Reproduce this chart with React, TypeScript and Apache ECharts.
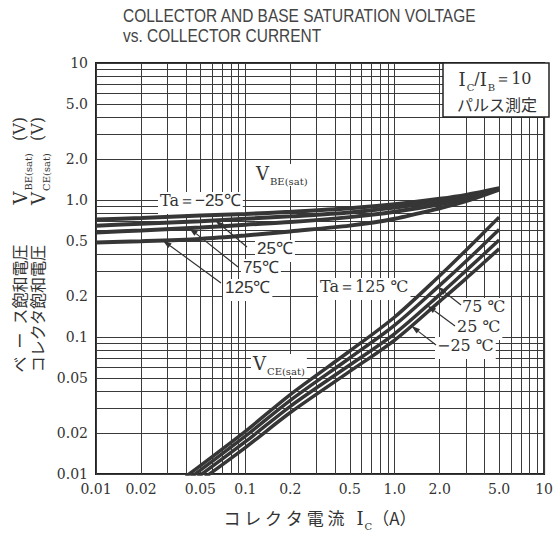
import React, { useEffect, useRef } from 'react';
import * as echarts from 'echarts';

// ---- axis ticks / labels ----
const X_TICK_VALUES = [0.01, 0.02, 0.05, 0.1, 0.2, 0.5, 1, 2, 5, 10];
const X_TICK_LABELS = ['0.01', '0.02', '0.05', '0.1', '0.2', '0.5', '1.0', '2.0', '5.0', '10'];
const Y_TICK_VALUES = [0.01, 0.02, 0.05, 0.1, 0.2, 0.5, 1, 2, 5, 10];
const Y_TICK_LABELS = ['0.01', '0.02', '0.05', '0.1', '0.2', '0.5', '1.0', '2.0', '5.0', '10'];
const GRID_MANTISSAS = [1, 2, 3, 4, 5, 6, 7, 8, 9];
const GRID_DECADES = [0.01, 0.1, 1];
const AXIS_MIN = 0.01;
const AXIS_MAX = 10;

// ---- VBE(sat) curves ----
const VBE_IC = [0.01, 0.02, 0.05, 0.1, 0.2, 0.5, 1, 2, 3, 5];
const VBE_M25 = [0.72, 0.74, 0.77, 0.79, 0.82, 0.87, 0.93, 1.02, 1.09, 1.22];
const VBE_25 = [0.65, 0.67, 0.70, 0.73, 0.76, 0.81, 0.88, 0.98, 1.06, 1.21];
const VBE_75 = [0.58, 0.60, 0.63, 0.66, 0.69, 0.75, 0.82, 0.93, 1.03, 1.20];
const VBE_125 = [0.49, 0.50, 0.52, 0.55, 0.59, 0.65, 0.73, 0.87, 0.98, 1.19];

// ---- VCE(sat) curves ----
const VCE_IC = [0.04, 0.1, 0.2, 0.5, 1, 2, 3, 5];
const VCE_125 = [0.0096, 0.0205, 0.038, 0.079, 0.14, 0.28, 0.43, 0.75];
const VCE_75 = [0.0089, 0.0189, 0.0345, 0.0703, 0.122, 0.238, 0.357, 0.61];
const VCE_25 = [0.0082, 0.0172, 0.0312, 0.0624, 0.106, 0.204, 0.305, 0.51];
const VCE_M25 = [0.0075, 0.0156, 0.0281, 0.0561, 0.095, 0.182, 0.267, 0.44];

const SERIF = 'DejaVu Serif';
const SANS = 'Liberation Sans';
const CJK = 'Noto Sans CJK JP';
const INK = '#333';

const lg = Math.log10;

function gridValues(): number[] {
  const out: number[] = [];
  GRID_DECADES.forEach((d) => GRID_MANTISSAS.forEach((m) => out.push(d * m)));
  out.push(AXIS_MAX);
  return out;
}

function labelFor(values: number[], labels: string[]) {
  return (v: number) => {
    const i = values.findIndex((t) => Math.abs(lg(t) - v) < 1e-6);
    return i >= 0 ? labels[i] : '';
  };
}

function toData(xs: number[], ys: number[]) {
  return xs.map((x, i) => [lg(x), lg(ys[i])]);
}

function interpLog(xs: number[], ys: number[], x: number): number {
  const lx = lg(x);
  for (let i = 0; i < xs.length - 1; i++) {
    const a = lg(xs[i]);
    const b = lg(xs[i + 1]);
    if (lx >= a && lx <= b) {
      const t = (lx - a) / (b - a);
      return Math.pow(10, lg(ys[i]) + t * (lg(ys[i + 1]) - lg(ys[i])));
    }
  }
  return ys[ys.length - 1];
}

export default function App() {
  const ref = useRef<HTMLDivElement>(null);

  useEffect(() => {
    if (!ref.current) return;
    const chart = echarts.init(ref.current, null, { renderer: 'svg' });
    const gv = gridValues().map(lg);

    const lineSeries = (name: string, xs: number[], ys: number[], w: number) => ({
      name,
      type: 'line',
      data: toData(xs, ys),
      symbol: 'none',
      smooth: 0.3,
      clip: true,
      z: 2,
      lineStyle: { color: '#363636', width: w },
    });

    chart.setOption({
      animation: false,
      grid: {
        left: 96,
        right: 7,
        top: 63,
        bottom: 62,
        show: true,
        borderColor: '#222',
        borderWidth: 2,
        backgroundColor: '#fff',
      },
      xAxis: {
        type: 'value',
        min: lg(AXIS_MIN),
        max: lg(AXIS_MAX),
        axisLine: { show: false },
        axisTick: { show: false, customValues: gv },
        axisLabel: {
          customValues: X_TICK_VALUES.map(lg),
          formatter: labelFor(X_TICK_VALUES, X_TICK_LABELS),
          margin: 8,
          fontFamily: SERIF,
          fontSize: 14,
          color: INK,
        },
        splitLine: { show: true, lineStyle: { color: '#3a3a3a', width: 1 } },
      },
      yAxis: {
        type: 'value',
        min: lg(AXIS_MIN),
        max: lg(AXIS_MAX),
        axisLine: { show: false },
        axisTick: { show: false, customValues: gv },
        axisLabel: {
          customValues: Y_TICK_VALUES.map(lg),
          formatter: labelFor(Y_TICK_VALUES, Y_TICK_LABELS),
          margin: 8,
          fontFamily: SERIF,
          fontSize: 14,
          color: INK,
        },
        splitLine: { show: true, lineStyle: { color: '#3a3a3a', width: 1 } },
      },
      series: [
        lineSeries('VBE -25', VBE_IC, VBE_M25, 4),
        lineSeries('VBE 25', VBE_IC, VBE_25, 4),
        lineSeries('VBE 75', VBE_IC, VBE_75, 4),
        lineSeries('VBE 125', VBE_IC, VBE_125, 4),
        lineSeries('VCE 125', VCE_IC, VCE_125, 3.5),
        lineSeries('VCE 75', VCE_IC, VCE_75, 3.5),
        lineSeries('VCE 25', VCE_IC, VCE_25, 3.5),
        lineSeries('VCE -25', VCE_IC, VCE_M25, 3.5),
      ],
    });

    const toPx = (x: number, y: number) =>
      chart.convertToPixel({ gridIndex: 0 }, [lg(x), lg(y)]) as number[];

    const subRich = {
      v: { fontFamily: SERIF, fontSize: 18, lineHeight: 22, verticalAlign: 'top', fill: INK, color: INK },
      s: { fontFamily: SERIF, fontSize: 10, lineHeight: 10, verticalAlign: 'bottom', fill: INK, color: INK, padding: [0, 0, 0, 1] },
      t: { fontFamily: SERIF, fontSize: 16, lineHeight: 22, verticalAlign: 'top', fill: INK, color: INK },
      n: { fontFamily: SANS, fontSize: 17, lineHeight: 22, verticalAlign: 'top', fill: INK, color: INK },
      c: { fontFamily: CJK, fontSize: 16, lineHeight: 22, verticalAlign: 'top', fill: INK, color: INK },
      x: { fontFamily: CJK, fontSize: 17, lineHeight: 22, verticalAlign: 'top', fill: INK, color: INK },
      g: { fontSize: 10, width: 40, lineHeight: 22, verticalAlign: 'top' },
      h: { fontSize: 10, width: 12, lineHeight: 22, verticalAlign: 'top' },
    };

    const label = (x: number, cy: number, text: string) => ({
      type: 'text',
      x,
      y: cy,
      z: 1,
      style: {
        text,
        rich: subRich,
        align: 'left',
        verticalAlign: 'middle',
        textAlign: 'left',
        textVerticalAlign: 'middle',
        backgroundColor: '#fff',
        padding: [0, 2, 0, 2],
        fill: INK,
      },
    });

    const arrow = (from: number[], tip: number[]) => {
      const dx = tip[0] - from[0];
      const dy = tip[1] - from[1];
      const len = Math.sqrt(dx * dx + dy * dy) || 1;
      const ux = dx / len;
      const uy = dy / len;
      const bx = tip[0] - ux * 9;
      const by = tip[1] - uy * 9;
      const nx = -uy * 2.8;
      const ny = ux * 2.8;
      return [
        {
          type: 'line',
          z: 3,
          shape: { x1: from[0], y1: from[1], x2: bx, y2: by },
          style: { stroke: '#333', lineWidth: 1.2 },
        },
        {
          type: 'polygon',
          z: 3,
          shape: { points: [[tip[0], tip[1]], [bx + nx, by + ny], [bx - nx, by - ny]] },
          style: { fill: '#333' },
        },
      ];
    };

    const tipOn = (xs: number[], ys: number[], x: number) => toPx(x, interpLog(xs, ys, x));

    const elements: any[] = [
      {
        type: 'text',
        x: 123,
        y: 6,
        scaleX: 0.86,
        style: {
          text: 'COLLECTOR AND BASE SATURATION VOLTAGE\nvs. COLLECTOR CURRENT',
          fontFamily: SANS,
          fontSize: 18,
          lineHeight: 20,
          fill: '#444',
          align: 'left',
          verticalAlign: 'top',
        },
      },
      // y axis title (two vertical columns)
      {
        type: 'text',
        x: 22,
        y: 117,
        rotation: Math.PI / 2,
        style: {
          text: '{c|ベ\u2002ー\u2002ス飽和電圧}{g| }{v|V}{s|BE(sat)}{h| }{t|(V)}',
          rich: subRich,
          align: 'right',
          verticalAlign: 'middle',
          textAlign: 'right',
          textVerticalAlign: 'middle',
        },
      },
      {
        type: 'text',
        x: 40,
        y: 117,
        rotation: Math.PI / 2,
        style: {
          text: '{c|コレクタ飽和電圧}{g| }{v|V}{s|CE(sat)}{h| }{t|(V)}',
          rich: subRich,
          align: 'right',
          verticalAlign: 'middle',
          textAlign: 'right',
          textVerticalAlign: 'middle',
        },
      },
      // x axis title
      {
        type: 'text',
        x: 320,
        y: 520,
        style: {
          text: '{x|コ レ ク タ 電 流}{h| }{v|I}{s|C}{x|（A）}',
          rich: subRich,
          align: 'center',
          verticalAlign: 'middle',
          textAlign: 'center',
          textVerticalAlign: 'middle',
        },
      },
      // condition box
      {
        type: 'rect',
        z: 1,
        shape: { x: 443, y: 63, width: 106, height: 54 },
        style: { fill: '#fff', stroke: '#222', lineWidth: 1.5 },
      },
      {
        type: 'text',
        x: 495,
        y: 81,
        z: 1,
        style: {
          text: '{v|I}{s|C}{t|/}{v|I}{s|B}{t|＝10}',
          rich: subRich,
          align: 'center',
          verticalAlign: 'middle',
          textAlign: 'center',
          textVerticalAlign: 'middle',
        },
      },
      {
        type: 'text',
        x: 497,
        y: 104,
        z: 1,
        style: {
          text: 'パルス測定',
          fontFamily: CJK,
          fontSize: 16,
          fill: INK,
          align: 'center',
          verticalAlign: 'middle',
          textAlign: 'center',
          textVerticalAlign: 'middle',
        },
      },
      // in-plot labels
      label(254, 175, '{v|V}{s|BE(sat)}'),
      label(158, 203, '{t|Ta}{t|＝}{n|−25℃}'),
      label(255, 251, '{n|25℃}'),
      label(241, 270, '{n|75℃}'),
      label(223, 290, '{n|125℃}'),
      label(318, 289, '{t|Ta＝125 ℃}'),
      label(460, 309, '{t|75 ℃}'),
      label(455, 329, '{t|25 ℃}'),
      label(435, 348, '{t|−25 ℃}'),
      label(251, 365, '{v|V}{s|CE(sat)}'),
    ];

    elements.push(
      ...arrow([247, 247], tipOn(VBE_IC, VBE_25, 0.063)),
      ...arrow([238, 267], tipOn(VBE_IC, VBE_75, 0.042)),
      ...arrow([221, 283], tipOn(VBE_IC, VBE_125, 0.028)),
      ...arrow([461, 305], tipOn(VCE_IC, VCE_75, 1.95)),
      ...arrow([455, 326], tipOn(VCE_IC, VCE_25, 1.65)),
      ...arrow([436, 345], tipOn(VCE_IC, VCE_M25, 1.29)),
    );

    chart.setOption({ graphic: { elements } });

    return () => chart.dispose();
  }, []);

  return (
    <div
      ref={ref}
      style={{ position: 'fixed', left: 0, top: 0, width: 556, height: 536, background: '#fff' }}
    />
  );
}
